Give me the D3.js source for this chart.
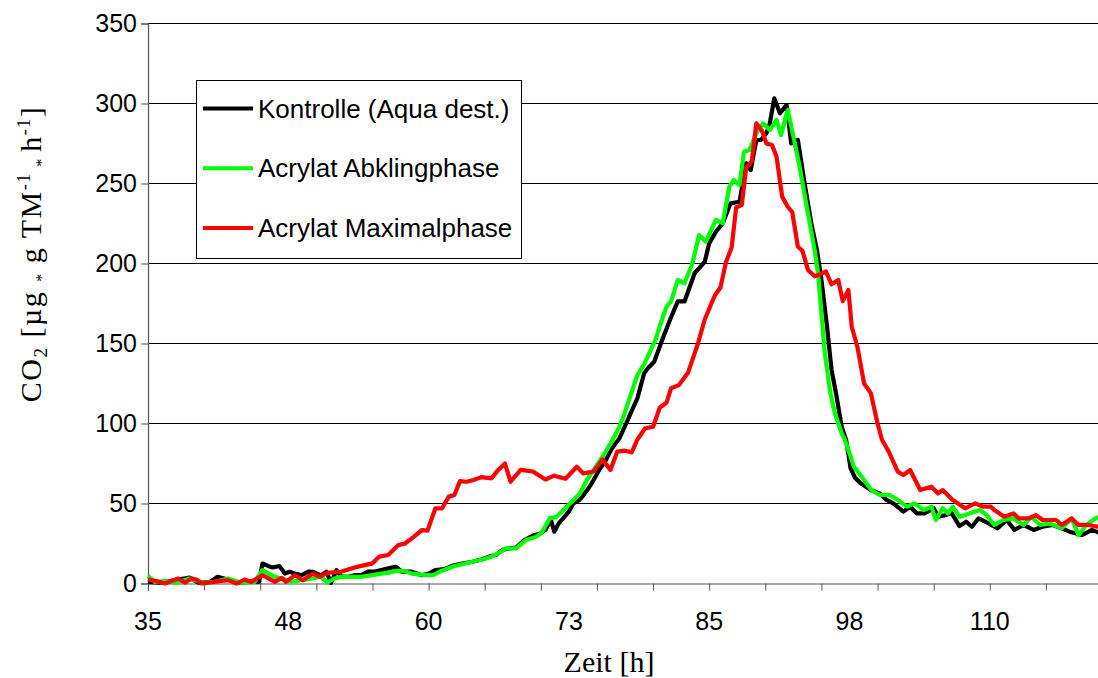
<!DOCTYPE html>
<html>
<head>
<meta charset="utf-8">
<script src="https://cdn.jsdelivr.net/npm/d3@7/dist/d3.min.js"></script>
<style>
  html, body { margin: 0; padding: 0; background: #fff; }
  svg { display: block; }
</style>
</head>
<body>
<svg id="chart" width="1098" height="678"></svg>
<script>
// CO2-Freisetzung über die Zeit: Kontrolle und zwei Acrylat-Phasen

const seriesNames = ["Kontrolle (Aqua dest.)", "Acrylat Abklingphase", "Acrylat Maximalphase"];
const seriesColors = ["#000000", "#00ff00", "#ff0000"];

const kontrolleZeit = [35,36,37,38.7,39.5,40.5,41.2,42.1,43,44,44.9,45.2,45.7,46.1,46.7,47.2,47.6,48.2,48.7,49.3,49.7,50.4,50.9,51.3,51.8,52.2,52.8,53.4,54,54.6,55.2,55.8,56.7,57.1,57.6,58.5,59.4,60,60.6,61.4,62.1,63,63.9,64.7,65.4,66,66.6,67.2,67.8,68.5,69.3,69.9,70.4,70.9,71.2,71.6,72.1,72.5,72.9,73.4,73.8,74.3,74.7,75.2,75.6,75.8,76.3,77,77.6,78.1,78.6,79.2,79.6,80.1,80.8,81.5,82.2,82.8,83.7,84.6,85,85.6,86.2,86.9,87.7,88.3,88.7,89.2,89.6,90.1,90.4,90.8,91.3,91.9,92.3,92.9,93.5,94.1,94.6,95,95.5,95.9,96.3,96.8,97.2,97.6,98,98.5,99.4,100.2,100.8,101.4,102.3,102.9,103.5,104.2,105,105.4,106.1,106.6,107.3,107.9,108.4,109,109.9,110.7,111.5,112.2,113,113.9,114.7,115.6,116.4,117.1,118.2,119.1,119.5,120];
const kontrolleCO2 = [1,0.5,1.5,3.7,0.5,1,4.2,2.5,0.5,1,1,12.5,11,10,10.9,6.2,7.3,6,5.2,7.4,7.3,5,7.3,0.4,8.3,4.5,4.2,5.2,5.2,7.4,7.4,8.4,9.9,10.4,7.4,7.4,5.2,6.2,8.4,9,11,12.5,13.6,15,16.8,17.8,21,22,22.5,27,30,31,33.5,39.7,32.4,37.6,41.7,45,50,52,55.3,60,64.7,71,75,77.2,84,90.7,100,108,115.7,131.4,135,138.6,152,164.7,176.3,176.3,193.9,201,212.6,219.9,225,237.6,238.6,262.6,258.4,277.2,277.2,281.4,287.6,303.2,293.9,299.1,275.1,277.2,250.1,225.1,208.4,189.7,160.5,133.4,118.9,98,89.7,72,66,62.6,58.4,56.3,52.2,50.1,44.9,48,43.8,43.8,47,41.7,42.8,44,35.9,38.6,35.5,40.7,37.6,34.5,39.7,33.5,36.6,33.5,35.5,36.6,34.5,32.4,30.3,33.5,32.4,31];

const abklingZeit = [35,35.6,36.5,37.5,38.7,39.9,41,42.1,43.3,44.5,45.2,45.8,46.3,47,47.8,48.6,49.5,50.4,51,51.6,52.3,53.4,54,54.8,55.8,56.6,57.1,57.8,58.5,59.3,60,60.4,61.2,62.1,63,63.9,64.8,65.5,66.2,66.9,67.8,68.7,69.6,70.1,70.8,71.4,72.3,72.9,73.5,74.1,74.7,75.5,76.3,77,77.4,77.9,78.6,79.2,79.8,80.2,80.7,81.2,81.6,82.2,82.8,83.5,84.1,84.7,85.6,86.2,86.8,87.2,87.7,88.1,88.6,89.2,89.8,90.4,91,91.4,92,92.5,93,93.8,94.4,94.7,95,95.3,95.8,96.2,96.8,97.1,97.9,98.8,99.5,100.2,101.1,102,102.6,103.3,104.1,104.8,105.2,105.8,106.3,106.7,107.3,108.2,109.1,109.7,110.4,111.2,112.1,113,113.7,114.5,115.3,116.4,117.3,117.9,118.6,119.4,120];
const abklingCO2 = [4.6,1,1.5,0.5,3.1,0.5,1,3.1,0.5,1,8.3,6,4.2,3,1,2,3,4.2,0.6,3.1,4.3,4.2,4.2,5,6.2,7,7.9,7.8,6.2,5.5,5.2,5.3,8,10.5,12,13.6,15,16.5,18.8,22,22,27.2,29.3,32,40.7,41.7,48,52,56.4,64.7,71,79.3,88.6,98,105,115.7,130.3,137,146,152,163,173,176.3,189.7,187.6,200,217.8,213.6,227.2,225,248,252.2,249,269.9,271,281.4,287.6,283.4,289.7,280.3,296,279.3,262.6,231.4,208.4,193.9,168.9,143.9,118.9,106.4,93.9,89.7,73,64.7,58,55.3,55.3,51.2,48,50.1,45.9,48,39.7,47,43.8,48,41.7,43.8,45.9,43,36.6,39.7,40.7,36.6,41.7,36.6,37.6,34.5,40.7,30.3,36.6,40.7,42];

const maximalZeit = [35,36,36.5,37.7,38.3,38.9,39.3,39.8,40.9,42.1,42.9,43.6,44.2,45.2,46.3,46.9,47.3,48.1,48.8,49.7,50.3,51,52.2,53.4,54.3,55,55.6,56.4,57.3,57.9,58.7,59.4,59.9,60.6,61.2,61.8,62.3,62.8,63.4,64,64.7,65.6,66.2,66.8,67.3,68.2,69.3,70.4,71.2,72.2,73.2,73.8,74.7,75.5,76.2,76.8,77.5,78.1,78.6,79.3,80,80.6,81.2,81.6,82.3,83.1,84,84.6,85.5,86,86.5,87,87.4,87.9,88.3,88.8,89.2,89.7,90.1,90.6,91,91.5,92,92.4,92.9,93.3,93.8,94.4,94.8,95.4,95.9,96.5,96.9,97.4,97.7,98.2,98.8,99.4,100,100.4,101,101.8,102.3,102.9,103.8,104.8,105.4,105.8,106.7,107.8,108.7,109.4,110.1,110.4,111.3,112.1,112.6,113.5,114.1,114.7,115.9,116.4,117.3,117.9,118.8,119.5,120];
const maximalCO2 = [2.6,1.1,0,3.1,0.5,3.1,2.5,0,1,2.1,0,2.5,1,5.2,1,3.5,1,5.2,2,6.2,4.2,6.7,7.3,10,11.5,12.6,16.8,17.8,24,25,29.3,33.4,33,47,47,54.3,55.3,64,63.6,64.7,66.5,65.7,71,75,63.6,71,70,65,67.4,65.5,73,68.8,70,77.5,71,82.4,83,82,90,97,98,110,113,122,124,131.5,150,165,180,185,201,210,235,236.5,260,264,287.6,283,275,274,266.8,241.8,235.5,232,210.5,208,196,192,193,195,187,189.7,176.5,183.4,160.5,148,125,119,100,89.7,82.4,69.9,67.8,70.9,58.4,60.5,56.3,58.4,52.2,47,50.1,48,48,45.9,41.7,43.8,40.7,40.7,42.8,39.7,39.7,36.6,40.7,36.6,36.6,35.6,36];

const yTicks = [0, 50, 100, 150, 200, 250, 300, 350];
const xTicks = [35,40,45,50,55,60,65,70,75,80,85,90,95,100,105,110,115,120];
const xLabelHours = [35, 47.5, 60, 72.5, 85, 97.5, 110];
const xLabelTexts = ["35", "48", "60", "73", "85", "98", "110"];

const svg = d3.select("#chart");
const plot = { left: 148, top: 23.5, bottom: 583.5 };

const x = d3.scaleLinear().domain([35, 120]).range([plot.left, plot.left + 85 * 11.224]);
const y = d3.scaleLinear().domain([0, 350]).range([plot.bottom, plot.top]);
const plotRight = x(120);

// horizontal gridlines
svg.append("g")
  .selectAll("line")
  .data(yTicks.filter(d => d > 0))
  .join("line")
  .attr("x1", plot.left).attr("x2", plotRight)
  .attr("y1", d => y(d)).attr("y2", d => y(d))
  .attr("stroke", "#000").attr("stroke-width", 1);

// y axis
const yAxis = d3.axisLeft(y).tickValues(yTicks).tickSize(7).tickPadding(4).tickFormat(d3.format("d"));
const gy = svg.append("g").attr("transform", `translate(${plot.left},0)`).call(yAxis);
gy.select(".domain").attr("stroke", "#555").attr("stroke-width", 1.2);
gy.selectAll(".tick line").attr("stroke", "#555");
gy.selectAll(".tick text")
  .attr("font-family", "'Liberation Sans', Arial, sans-serif")
  .attr("font-size", 25).attr("fill", "#000");

// x axis: ticks every 5 h, labels every 12.5 h
const xAxis = d3.axisBottom(x).tickValues(xTicks).tickSize(7).tickFormat("");
const gx = svg.append("g").attr("transform", `translate(0,${plot.bottom})`).call(xAxis);
gx.select(".domain").attr("stroke", "#555").attr("stroke-width", 1.2);
gx.selectAll(".tick line").attr("stroke", "#555");

svg.append("g")
  .selectAll("text")
  .data(xLabelHours)
  .join("text")
  .attr("x", d => x(d))
  .attr("y", plot.bottom + 46)
  .attr("text-anchor", "middle")
  .attr("font-family", "'Liberation Sans', Arial, sans-serif")
  .attr("font-size", 25)
  .text((d, i) => xLabelTexts[i]);

// axis titles
svg.append("text")
  .attr("x", 609).attr("y", 672)
  .attr("text-anchor", "middle")
  .attr("font-family", "'Liberation Serif', 'Times New Roman', serif")
  .attr("font-size", 30)
  .text("Zeit [h]");

const yt = svg.append("text")
  .attr("transform", "translate(41,254) rotate(-90)")
  .attr("text-anchor", "middle")
  .attr("font-family", "'Liberation Serif', 'Times New Roman', serif")
  .attr("font-size", 30)
  .attr("letter-spacing", 1.5);
yt.append("tspan").text("CO");
yt.append("tspan").attr("font-size", 19).attr("dy", 6).text("2");
yt.append("tspan").attr("dy", -6).text(" [µg ");
yt.append("tspan").attr("font-size", 16).attr("dy", 6).text("*");
yt.append("tspan").attr("dy", -6).text(" g TM");
yt.append("tspan").attr("font-size", 18).attr("dy", -11).text("-1");
yt.append("tspan").attr("font-size", 16).attr("dy", 17).text(" * ");
yt.append("tspan").attr("dy", -6).text(" h");
yt.append("tspan").attr("font-size", 18).attr("dy", -11).text("-1");
yt.append("tspan").attr("dy", 11).text("]");

// data lines
const line = d3.line().x(d => x(d[0])).y(d => y(d[1]));
const allSeries = [
  d3.zip(kontrolleZeit, kontrolleCO2),
  d3.zip(abklingZeit, abklingCO2),
  d3.zip(maximalZeit, maximalCO2)
];
svg.append("g")
  .selectAll("path")
  .data(allSeries)
  .join("path")
  .attr("d", line)
  .attr("fill", "none")
  .attr("stroke", (d, i) => seriesColors[i])
  .attr("stroke-width", 4.2)
  .attr("stroke-linejoin", "round");

// legend
const legend = svg.append("g");
legend.append("rect")
  .attr("x", 196.5).attr("y", 80.5).attr("width", 325).attr("height", 178)
  .attr("fill", "#fff").attr("stroke", "#000").attr("stroke-width", 1);
const rows = legend.selectAll("g.row")
  .data(seriesNames)
  .join("g")
  .attr("class", "row")
  .attr("transform", (d, i) => `translate(0,${108.5 + i * 59.7})`);
rows.append("line")
  .attr("x1", 203).attr("x2", 253)
  .attr("stroke", (d, i) => seriesColors[i])
  .attr("stroke-width", 4);
rows.append("text")
  .attr("x", 258).attr("y", 9)
  .attr("font-family", "'Liberation Sans', Arial, sans-serif")
  .attr("font-size", 26)
  .text(d => d);
</script>
</body>
</html>
